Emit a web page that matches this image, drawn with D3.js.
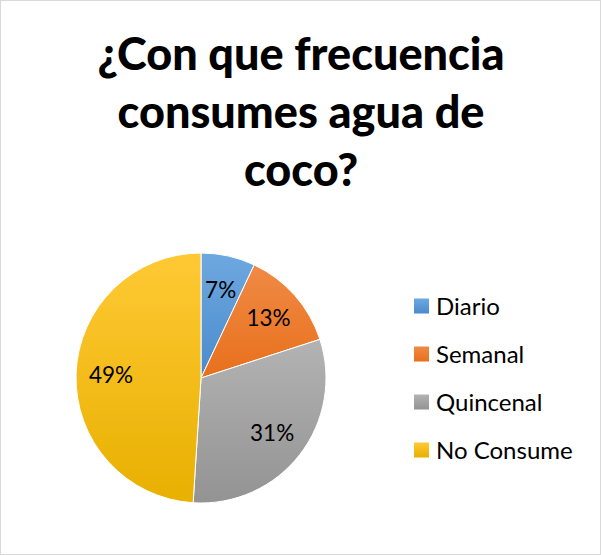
<!DOCTYPE html>
<html>
<head>
<meta charset="utf-8">
<script src="https://cdnjs.cloudflare.com/ajax/libs/d3/7.8.5/d3.min.js"></script>
<style>
  body { margin: 0; background: #fff; }
  svg { display: block; font-family: Lato, "Open Sans", sans-serif; }
</style>
</head>
<body>
<div class="chart"></div>
<script>
var titleLines = ["¿Con que frecuencia", "consumes agua de", "coco?"];
var categories = ["Diario", "Semanal", "Quincenal", "No Consume"];
var values = [7, 13, 31, 49];
var colorsTop = ["#6ea8e0", "#f08a45", "#b3b3b3", "#ffc935"];
var colorsBottom = ["#4a8bcc", "#e8701c", "#939393", "#e8b000"];

var width = 601;
var height = 555;
var radius = 125;
var cx = 201, cy = 378;

var svg = d3.select(".chart")
  .append("svg")
  .attr("width", width)
  .attr("height", height);

svg.append("rect")
  .attr("x", 0.5).attr("y", 0.5)
  .attr("width", width - 1).attr("height", height - 1)
  .attr("fill", "#fff")
  .attr("stroke", "#d9d9d9");

// gradients, lighter on top
var defs = svg.append("defs");
categories.forEach(function(c, i) {
  var g = defs.append("linearGradient")
    .attr("id", "grad" + i)
    .attr("x1", 0).attr("y1", 0).attr("x2", 0).attr("y2", 1);
  g.append("stop").attr("offset", "0%").attr("stop-color", colorsTop[i]);
  g.append("stop").attr("offset", "100%").attr("stop-color", colorsBottom[i]);
});

// title
svg.append("text")
  .attr("text-anchor", "middle")
  .attr("font-weight", "900")
  .attr("font-size", 45)
  .attr("fill", "#000")
  .selectAll("tspan")
  .data(titleLines)
  .enter().append("tspan")
  .attr("x", 301)
  .attr("y", function(d, i) { return 70 + i * 58; })
  .text(function(d) { return d; });

var pie = d3.pie()
  .sort(null)
  .value(function(d) { return d; })(values);

var arc = d3.arc()
  .innerRadius(0)
  .outerRadius(radius);

var labelArc = d3.arc()
  .innerRadius(radius * 0.72)
  .outerRadius(radius * 0.72);

var g = svg.append("g")
  .attr("transform", "translate(" + cx + "," + cy + ")");

var slices = g.selectAll(".arc")
  .data(pie)
  .enter().append("g")
  .attr("class", "arc");

slices.append("path")
  .attr("d", arc)
  .attr("fill", function(d, i) { return "url(#grad" + i + ")"; })
  .attr("stroke", "#fff")
  .attr("stroke-width", 1);

slices.append("text")
  .attr("transform", function(d) { return "translate(" + labelArc.centroid(d) + ")"; })
  .attr("text-anchor", "middle")
  .attr("dy", "0.35em")
  .attr("font-size", 22.5)
  .attr("fill", "#000")
  .text(function(d) { return d.data + "%"; });

// legend
var legend = svg.append("g")
  .attr("transform", "translate(414,306)");

var item = legend.selectAll(".item")
  .data(categories)
  .enter().append("g")
  .attr("class", "item")
  .attr("transform", function(d, i) { return "translate(0," + i * 48 + ")"; });

item.append("rect")
  .attr("x", 0).attr("y", -7.5)
  .attr("width", 15).attr("height", 15)
  .attr("fill", function(d, i) { return "url(#grad" + i + ")"; });

item.append("text")
  .attr("x", 22)
  .attr("dy", "0.36em")
  .attr("font-size", 24)
  .attr("fill", "#000")
  .text(function(d) { return d; });
</script>
</body>
</html>
